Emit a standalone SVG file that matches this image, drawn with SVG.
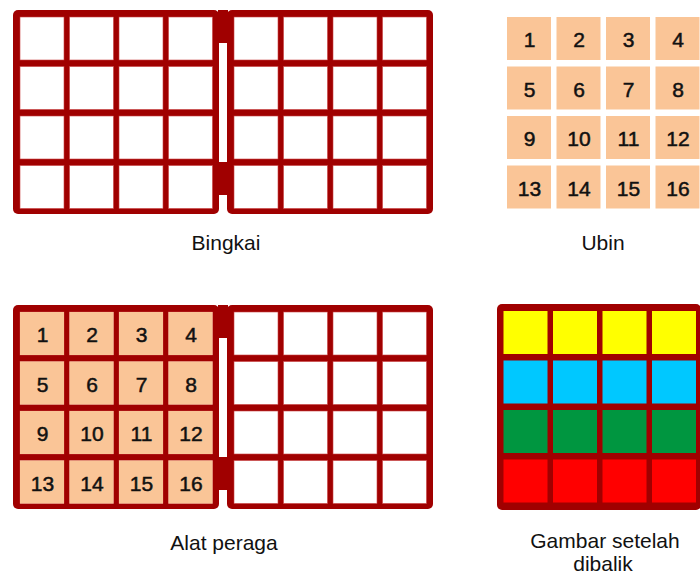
<svg xmlns="http://www.w3.org/2000/svg" xmlns:xlink="http://www.w3.org/1999/xlink" width="700" height="575" viewBox="0 0 700 575">
<style>
.fr{fill:#a00000}
.cell{fill:#ffffff;stroke:#c84040;stroke-width:0.6}
.tile{fill:#fac597}
.num{font-family:"Liberation Sans",Arial,sans-serif;font-size:21px;fill:#111;stroke:#111;stroke-width:0.5;text-anchor:middle}
.lbl{font-family:"Liberation Sans",Arial,sans-serif;font-size:21px;fill:#111;text-anchor:middle}
.y{fill:#ffff00}.c{fill:#00c8ff}.g{fill:#009640}.r{fill:#ff0000}
</style>
<defs>
<g id="grid">
<rect class="fr" x="0" y="0" width="206" height="204" rx="5"/>
<rect class="cell" x="7" y="7" width="44" height="43"/><rect class="cell" x="56.5" y="7" width="44" height="43"/><rect class="cell" x="106" y="7" width="44" height="43"/><rect class="cell" x="155.5" y="7" width="44" height="43"/>
<rect class="cell" x="7" y="56.5" width="44" height="43"/><rect class="cell" x="56.5" y="56.5" width="44" height="43"/><rect class="cell" x="106" y="56.5" width="44" height="43"/><rect class="cell" x="155.5" y="56.5" width="44" height="43"/>
<rect class="cell" x="7" y="106" width="44" height="43"/><rect class="cell" x="56.5" y="106" width="44" height="43"/><rect class="cell" x="106" y="106" width="44" height="43"/><rect class="cell" x="155.5" y="106" width="44" height="43"/>
<rect class="cell" x="7" y="155.5" width="44" height="43"/><rect class="cell" x="56.5" y="155.5" width="44" height="43"/><rect class="cell" x="106" y="155.5" width="44" height="43"/><rect class="cell" x="155.5" y="155.5" width="44" height="43"/>
</g>
<g id="hinge">
<rect class="fr" x="0" y="10" width="10" height="33"/>
<rect class="fr" x="0" y="162" width="10" height="33"/>
</g>
<g id="tiles">
<rect class="tile" x="0" y="0" width="44" height="43"/><rect class="tile" x="49.5" y="0" width="44" height="43"/><rect class="tile" x="99" y="0" width="44" height="43"/><rect class="tile" x="148.5" y="0" width="44" height="43"/>
<rect class="tile" x="0" y="49.5" width="44" height="43"/><rect class="tile" x="49.5" y="49.5" width="44" height="43"/><rect class="tile" x="99" y="49.5" width="44" height="43"/><rect class="tile" x="148.5" y="49.5" width="44" height="43"/>
<rect class="tile" x="0" y="99" width="44" height="43"/><rect class="tile" x="49.5" y="99" width="44" height="43"/><rect class="tile" x="99" y="99" width="44" height="43"/><rect class="tile" x="148.5" y="99" width="44" height="43"/>
<rect class="tile" x="0" y="148.5" width="44" height="43"/><rect class="tile" x="49.5" y="148.5" width="44" height="43"/><rect class="tile" x="99" y="148.5" width="44" height="43"/><rect class="tile" x="148.5" y="148.5" width="44" height="43"/>
<text class="num" x="22.5" y="30">1</text><text class="num" x="72" y="30">2</text><text class="num" x="121.5" y="30">3</text><text class="num" x="171" y="30">4</text>
<text class="num" x="22.5" y="79.5">5</text><text class="num" x="72" y="79.5">6</text><text class="num" x="121.5" y="79.5">7</text><text class="num" x="171" y="79.5">8</text>
<text class="num" x="22.5" y="129">9</text><text class="num" x="72" y="129">10</text><text class="num" x="121.5" y="129">11</text><text class="num" x="171" y="129">12</text>
<text class="num" x="22.5" y="178.5">13</text><text class="num" x="72" y="178.5">14</text><text class="num" x="121.5" y="178.5">15</text><text class="num" x="171" y="178.5">16</text>
</g>
</defs>

<g id="bingkai">
<use xlink:href="#hinge" x="218" y="0"/>
<use xlink:href="#grid" x="13" y="10"/>
<use xlink:href="#grid" x="227" y="10"/>
<text class="lbl" x="226" y="250">Bingkai</text>
</g>

<g id="ubin">
<use xlink:href="#tiles" x="507" y="17"/>
<text class="lbl" x="603" y="250">Ubin</text>
</g>

<g id="alat-peraga">
<use xlink:href="#hinge" x="218" y="295"/>
<use xlink:href="#grid" x="13" y="305"/>
<use xlink:href="#grid" x="227" y="305"/>
<use xlink:href="#tiles" x="20" y="312"/>
<text class="lbl" x="224" y="550">Alat peraga</text>
</g>

<g id="gambar">
<rect class="fr" x="497" y="304" width="204" height="206" rx="5"/>
<rect class="y" x="503.5" y="311" width="44" height="43"/><rect class="y" x="553" y="311" width="44" height="43"/><rect class="y" x="602.5" y="311" width="44" height="43"/><rect class="y" x="652" y="311" width="44" height="43"/>
<rect class="c" x="503.5" y="360.5" width="44" height="43"/><rect class="c" x="553" y="360.5" width="44" height="43"/><rect class="c" x="602.5" y="360.5" width="44" height="43"/><rect class="c" x="652" y="360.5" width="44" height="43"/>
<rect class="g" x="503.5" y="410" width="44" height="43"/><rect class="g" x="553" y="410" width="44" height="43"/><rect class="g" x="602.5" y="410" width="44" height="43"/><rect class="g" x="652" y="410" width="44" height="43"/>
<rect class="r" x="503.5" y="459.5" width="44" height="43"/><rect class="r" x="553" y="459.5" width="44" height="43"/><rect class="r" x="602.5" y="459.5" width="44" height="43"/><rect class="r" x="652" y="459.5" width="44" height="43"/>
<text class="lbl" x="605" y="548">Gambar setelah</text>
<text class="lbl" x="603" y="571">dibalik</text>
</g>

<g id="connectors"/>
</svg>
